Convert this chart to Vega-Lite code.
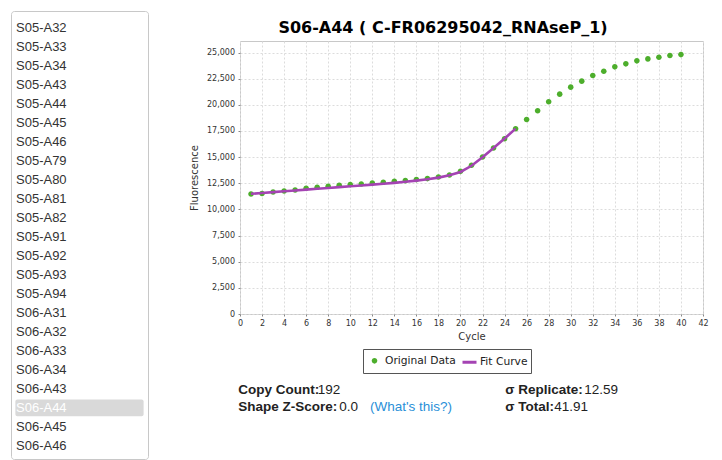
{
  "$schema": "https://vega.github.io/schema/vega-lite/v6.json",
  "background": "white",
  "padding": {"left": 10, "top": 10, "right": 0, "bottom": 0},
  "bounds": "flush",
  "spacing": 92,
  "config": {
    "font": "DejaVu Sans",
    "view": {"stroke": null},
    "axis": {
      "labelFont": "DejaVu Sans",
      "labelFontSize": 8,
      "labelColor": "#333333",
      "titleFont": "DejaVu Sans",
      "titleFontSize": 10,
      "titleFontWeight": "normal",
      "titleColor": "#333333",
      "tickSize": 2,
      "tickColor": "#888888",
      "domain": false,
      "gridColor": "#dcdcdc",
      "gridDash": [2, 2],
      "labelPadding": 3
    },
    "legend": {
      "orient": "none",
      "legendX": 352,
      "legendY": 338,
      "direction": "horizontal",
      "strokeColor": "#555555",
      "padding": 3,
      "labelFont": "DejaVu Sans",
      "labelFontSize": 10.7,
      "labelColor": "#222222",
      "labelOffset": 2,
      "columnPadding": 0,
      "symbolSize": 196,
      "symbolStrokeWidth": 3
    }
  },
  "hconcat": [
    {
      "width": 137,
      "height": 448,
      "view": {"stroke": "#c8c8c8", "cornerRadius": 3},
      "data": {
        "values": [
          {"item": "S05-A32"}, {"item": "S05-A33"}, {"item": "S05-A34"}, {"item": "S05-A43"},
          {"item": "S05-A44"}, {"item": "S05-A45"}, {"item": "S05-A46"}, {"item": "S05-A79"},
          {"item": "S05-A80"}, {"item": "S05-A81"}, {"item": "S05-A82"}, {"item": "S05-A91"},
          {"item": "S05-A92"}, {"item": "S05-A93"}, {"item": "S05-A94"}, {"item": "S06-A31"},
          {"item": "S06-A32"}, {"item": "S06-A33"}, {"item": "S06-A34"}, {"item": "S06-A43"},
          {"item": "S06-A44"}, {"item": "S06-A45"}, {"item": "S06-A46"}
        ]
      },
      "encoding": {
        "y": {
          "field": "item",
          "type": "nominal",
          "sort": null,
          "axis": null,
          "scale": {"type": "band", "range": [7.3, 444.3], "paddingInner": 0.12, "paddingOuter": 0.06}
        }
      },
      "layer": [
        {
          "mark": {"type": "bar", "cornerRadius": 2, "color": "#d9d9d9"},
          "encoding": {
            "x": {"datum": 0.032, "type": "quantitative", "scale": {"domain": [0, 1]}, "axis": null},
            "x2": {"datum": 0.968},
            "opacity": {"condition": {"test": "datum.item === 'S06-A44'", "value": 1}, "value": 0}
          }
        },
        {
          "mark": {"type": "text", "align": "left", "dx": -63.5, "font": "Liberation Sans", "fontSize": 13},
          "encoding": {
            "text": {"field": "item"},
            "color": {"condition": {"test": "datum.item === 'S06-A44'", "value": "#ffffff"}, "value": "#333333"}
          }
        }
      ]
    },
    {
      "bounds": "flush",
      "spacing": 0,
      "vconcat": [
        {
          "width": 463,
          "height": 30,
          "data": {"values": [{"title": "S06-A44 ( C-FR06295042_RNAseP_1)"}]},
          "mark": {"type": "text", "font": "DejaVu Sans", "fontSize": 16, "fontWeight": "bold", "baseline": "alphabetic", "dx": -28.5, "dy": 7.3, "color": "#000000"},
          "encoding": {"text": {"field": "title"}}
        },
        {
          "width": 463,
          "height": 273,
          "view": {"stroke": "#c8c8c8"},
          "data": {
            "values": [
              {"cycle": 1, "series": "Original Data", "fluorescence": 11477},
              {"cycle": 2, "series": "Original Data", "fluorescence": 11514},
              {"cycle": 3, "series": "Original Data", "fluorescence": 11670},
              {"cycle": 4, "series": "Original Data", "fluorescence": 11765},
              {"cycle": 5, "series": "Original Data", "fluorescence": 11860},
              {"cycle": 6, "series": "Original Data", "fluorescence": 12020},
              {"cycle": 7, "series": "Original Data", "fluorescence": 12116},
              {"cycle": 8, "series": "Original Data", "fluorescence": 12211},
              {"cycle": 9, "series": "Original Data", "fluorescence": 12307},
              {"cycle": 10, "series": "Original Data", "fluorescence": 12370},
              {"cycle": 11, "series": "Original Data", "fluorescence": 12430},
              {"cycle": 12, "series": "Original Data", "fluorescence": 12526},
              {"cycle": 13, "series": "Original Data", "fluorescence": 12590},
              {"cycle": 14, "series": "Original Data", "fluorescence": 12690},
              {"cycle": 15, "series": "Original Data", "fluorescence": 12750},
              {"cycle": 16, "series": "Original Data", "fluorescence": 12850},
              {"cycle": 17, "series": "Original Data", "fluorescence": 12945},
              {"cycle": 18, "series": "Original Data", "fluorescence": 13100},
              {"cycle": 19, "series": "Original Data", "fluorescence": 13290},
              {"cycle": 20, "series": "Original Data", "fluorescence": 13640},
              {"cycle": 21, "series": "Original Data", "fluorescence": 14215},
              {"cycle": 22, "series": "Original Data", "fluorescence": 15006},
              {"cycle": 23, "series": "Original Data", "fluorescence": 15865},
              {"cycle": 24, "series": "Original Data", "fluorescence": 16760},
              {"cycle": 25, "series": "Original Data", "fluorescence": 17715},
              {"cycle": 26, "series": "Original Data", "fluorescence": 18600},
              {"cycle": 27, "series": "Original Data", "fluorescence": 19430},
              {"cycle": 28, "series": "Original Data", "fluorescence": 20290},
              {"cycle": 29, "series": "Original Data", "fluorescence": 21020},
              {"cycle": 30, "series": "Original Data", "fluorescence": 21690},
              {"cycle": 31, "series": "Original Data", "fluorescence": 22260},
              {"cycle": 32, "series": "Original Data", "fluorescence": 22800},
              {"cycle": 33, "series": "Original Data", "fluorescence": 23210},
              {"cycle": 34, "series": "Original Data", "fluorescence": 23630},
              {"cycle": 35, "series": "Original Data", "fluorescence": 23915},
              {"cycle": 36, "series": "Original Data", "fluorescence": 24200},
              {"cycle": 37, "series": "Original Data", "fluorescence": 24390},
              {"cycle": 38, "series": "Original Data", "fluorescence": 24550},
              {"cycle": 39, "series": "Original Data", "fluorescence": 24710},
              {"cycle": 40, "series": "Original Data", "fluorescence": 24800},
              {"cycle": 1, "series": "Fit Curve", "fluorescence": 11490},
              {"cycle": 2, "series": "Fit Curve", "fluorescence": 11570},
              {"cycle": 3, "series": "Fit Curve", "fluorescence": 11650},
              {"cycle": 4, "series": "Fit Curve", "fluorescence": 11730},
              {"cycle": 5, "series": "Fit Curve", "fluorescence": 11810},
              {"cycle": 6, "series": "Fit Curve", "fluorescence": 11890},
              {"cycle": 7, "series": "Fit Curve", "fluorescence": 11970},
              {"cycle": 8, "series": "Fit Curve", "fluorescence": 12050},
              {"cycle": 9, "series": "Fit Curve", "fluorescence": 12130},
              {"cycle": 10, "series": "Fit Curve", "fluorescence": 12210},
              {"cycle": 11, "series": "Fit Curve", "fluorescence": 12290},
              {"cycle": 12, "series": "Fit Curve", "fluorescence": 12370},
              {"cycle": 13, "series": "Fit Curve", "fluorescence": 12450},
              {"cycle": 14, "series": "Fit Curve", "fluorescence": 12540},
              {"cycle": 15, "series": "Fit Curve", "fluorescence": 12640},
              {"cycle": 16, "series": "Fit Curve", "fluorescence": 12750},
              {"cycle": 17, "series": "Fit Curve", "fluorescence": 12880},
              {"cycle": 18, "series": "Fit Curve", "fluorescence": 13040},
              {"cycle": 19, "series": "Fit Curve", "fluorescence": 13260},
              {"cycle": 20, "series": "Fit Curve", "fluorescence": 13580},
              {"cycle": 21, "series": "Fit Curve", "fluorescence": 14170},
              {"cycle": 22, "series": "Fit Curve", "fluorescence": 14980},
              {"cycle": 23, "series": "Fit Curve", "fluorescence": 15860},
              {"cycle": 24, "series": "Fit Curve", "fluorescence": 16780},
              {"cycle": 25, "series": "Fit Curve", "fluorescence": 17720}
            ]
          },
          "encoding": {
            "x": {
              "field": "cycle",
              "type": "quantitative",
              "title": "Cycle",
              "scale": {"domain": [0, 42], "nice": false, "zero": false},
              "axis": {"values": [0, 2, 4, 6, 8, 10, 12, 14, 16, 18, 20, 22, 24, 26, 28, 30, 32, 34, 36, 38, 40, 42], "titlePadding": 4, "labelFlush": false}
            },
            "y": {
              "field": "fluorescence",
              "type": "quantitative",
              "title": "Fluorescence",
              "scale": {"domain": [0, 26100], "nice": false},
              "axis": {"values": [0, 2500, 5000, 7500, 10000, 12500, 15000, 17500, 20000, 22500, 25000], "format": ",.0f", "labelPadding": 3.5, "titlePadding": 7}
            },
            "stroke": {
              "field": "series",
              "type": "nominal",
              "scale": {"domain": ["Original Data", "Fit Curve"], "range": ["transparent", "#a443b3"]},
              "legend": {"title": null}
            }
          },
          "layer": [
            {
              "transform": [{"filter": "datum.series === 'Original Data'"}],
              "mark": {"type": "point", "size": 196, "opacity": 1},
              "encoding": {
                "fill": {
                  "field": "series",
                  "type": "nominal",
                  "scale": {"domain": ["Original Data", "Fit Curve"], "range": ["#4dae2c", "transparent"]},
                  "legend": {"title": null}
                },
                "shape": {
                  "field": "series",
                  "type": "nominal",
                  "scale": {"domain": ["Original Data", "Fit Curve"], "range": ["M -0.4 0 A 0.4 0.4 0 1 0 0.4 0 A 0.4 0.4 0 1 0 -0.4 0 Z", "stroke"]},
                  "legend": {"title": null}
                }
              }
            },
            {
              "transform": [{"filter": "datum.series === 'Fit Curve'"}],
              "mark": {"type": "line", "strokeWidth": 2.6}
            }
          ]
        },
        {
          "width": 267,
          "height": 120,
          "data": {
            "values": [
              {"col": "left", "row": 1, "label": "Copy Count:", "value": "192"},
              {"col": "left", "row": 2, "label": "Shape Z-Score:", "value": "0.0", "note": "(What's this?)"},
              {"col": "right", "row": 1, "label": "σ Replicate:", "value": "12.59"},
              {"col": "right", "row": 2, "label": "σ Total:", "value": "41.91"}
            ]
          },
          "encoding": {
            "x": {"field": "col", "type": "nominal", "axis": null, "scale": {"type": "point", "padding": 0}},
            "y": {"field": "row", "type": "ordinal", "axis": null, "scale": {"type": "point", "range": [76, 93], "padding": 0}}
          },
          "layer": [
            {
              "mark": {"type": "text", "align": "left", "dx": -1.7, "font": "Liberation Sans", "fontSize": 13.5, "fontWeight": "bold", "color": "#222222"},
              "encoding": {"text": {"field": "label"}}
            },
            {
              "transform": [{"filter": "datum.label === 'Copy Count:'"}],
              "mark": {"type": "text", "align": "left", "dx": 77.7, "font": "Liberation Sans", "fontSize": 13.5, "color": "#222222"},
              "encoding": {"text": {"field": "value"}}
            },
            {
              "transform": [{"filter": "datum.label === 'Shape Z-Score:'"}],
              "mark": {"type": "text", "align": "left", "dx": 99.3, "font": "Liberation Sans", "fontSize": 13.5, "color": "#222222"},
              "encoding": {"text": {"field": "value"}}
            },
            {
              "transform": [{"filter": "datum.label === 'σ Replicate:'"}],
              "mark": {"type": "text", "align": "left", "dx": 77.3, "font": "Liberation Sans", "fontSize": 13.5, "color": "#222222"},
              "encoding": {"text": {"field": "value"}}
            },
            {
              "transform": [{"filter": "datum.label === 'σ Total:'"}],
              "mark": {"type": "text", "align": "left", "dx": 47.3, "font": "Liberation Sans", "fontSize": 13.5, "color": "#222222"},
              "encoding": {"text": {"field": "value"}}
            },
            {
              "transform": [{"filter": "datum.note"}],
              "mark": {"type": "text", "align": "left", "dx": 130, "font": "Liberation Sans", "fontSize": 13.5, "color": "#2a8fd8"},
              "encoding": {"text": {"field": "note"}}
            }
          ]
        }
      ]
    }
  ]
}
